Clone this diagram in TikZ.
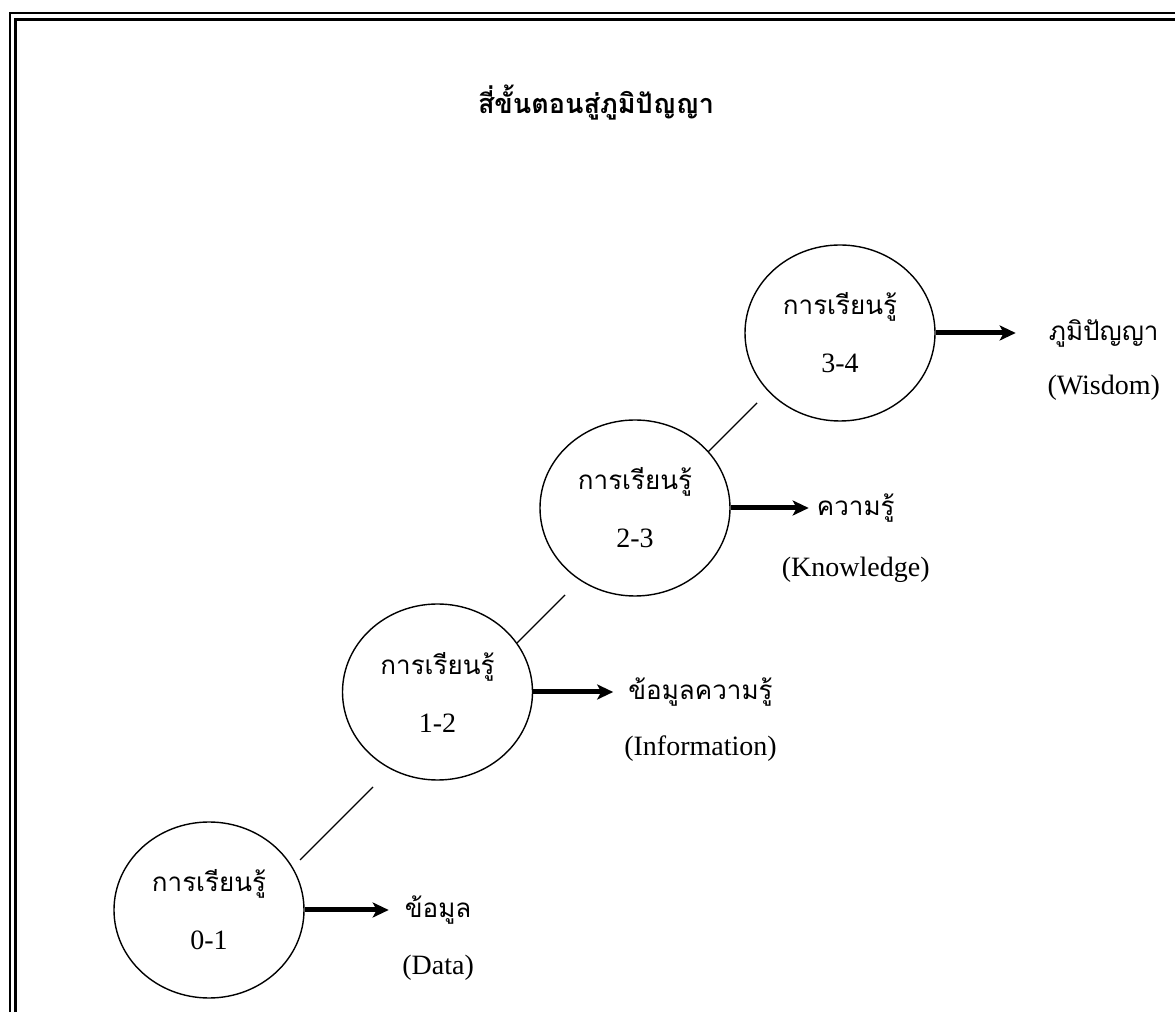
\documentclass[tikz,border=0pt]{standalone}
\usepackage{fontspec}
\setmainfont{Liberation Serif}
\newfontfamily\thaifont[Script=Thai]{Loma}
\usetikzlibrary{positioning, arrows.meta, shapes.geometric, calc}
\newcommand{\thaitext}[1]{{\fontsize{26}{58}\thaifont #1}}

\begin{document}
\begin{tikzpicture}[
    x=1pt, y=1pt,
    stage/.style={
        draw,
        ellipse,
        line width=1.4pt,
        minimum width=190pt,
        minimum height=176pt,
        inner sep=0pt,
        align=center,
        font=\fontsize{28}{58}\selectfont
    },
    arrow/.style={-{Stealth[length=16pt,width=15pt,inset=4pt]}, line width=5pt},
    link/.style={line width=1.4pt},
    thai/.style={font=\fontsize{26}{30}\thaifont, inner sep=0pt},
    eng/.style={font=\fontsize{28}{32}\selectfont, inner sep=0pt}
]
\useasboundingbox (0,0) rectangle (1175,1012);

\draw[line width=2pt] (10,0) -- (10,999) -- (1175,999);
\draw[line width=3pt] (15.5,0) -- (15.5,992.5) -- (1175,992.5);

\node (title) [font=\fontsize{27}{32}\thaifont\bfseries, inner sep=0pt] at (596,909) {สี่ขั้นตอนสู่ภูมิปัญญา};

\node (c01) [stage] at (209,102) {\thaitext{การเรียนรู้}\\0-1};
\node (c12) [stage, on grid, above right=218pt and 228.5pt of c01] {\thaitext{การเรียนรู้}\\1-2};
\node (c23) [stage, on grid, above right=184pt and 197.5pt of c12] {\thaitext{การเรียนรู้}\\2-3};
\node (c34) [stage, on grid, above right=175pt and 205pt of c23] {\thaitext{การเรียนรู้}\\3-4};

\coordinate (l1a) at ($(c01.center)+(91,50)$);
\coordinate (l1b) at ($(c01.center)+(164,123)$);
\coordinate (l2a) at ($(c12.center)+(79.5,49)$);
\coordinate (l2b) at ($(c12.center)+(127.5,97)$);
\coordinate (l3a) at ($(c23.center)+(73,56)$);
\coordinate (l3b) at ($(c23.center)+(122,105)$);
\draw[link] (l1a) -- (l1b);
\draw[link] (l2a) -- (l2b);
\draw[link] (l3a) -- (l3b);

\coordinate (t01) at ($(c01.east)+(84,0)$);
\coordinate (t12) at ($(c12.east)+(80,0)$);
\coordinate (t23) at ($(c23.east)+(78,0)$);
\coordinate (t34) at ($(c34.east)+(80,0)$);
\draw[arrow] (c01.east) -- (t01);
\draw[arrow] (c12.east) -- (t12);
\draw[arrow] (c23.east) -- (t23);
\draw[arrow] (c34.east) -- (t34);

\node (data) [thai, right=16pt of t01] {ข้อมูล};
\node (dataen) [eng, on grid, below=58pt of data] {(Data)};
\node (info) [thai, right=15pt of t12] {ข้อมูลความรู้};
\node (infoen) [eng, on grid, below=57pt of info] {(Information)};
\node (know) [thai, right=8pt of t23] {ความรู้};
\node (knowen) [eng, on grid, below=62pt of know] {(Knowledge)};
\node (wis) [thai, right=33pt of t34] {ภูมิปัญญา};
\node (wisen) [eng, on grid, below=55pt of wis] {(Wisdom)};

\end{tikzpicture}
\end{document}
